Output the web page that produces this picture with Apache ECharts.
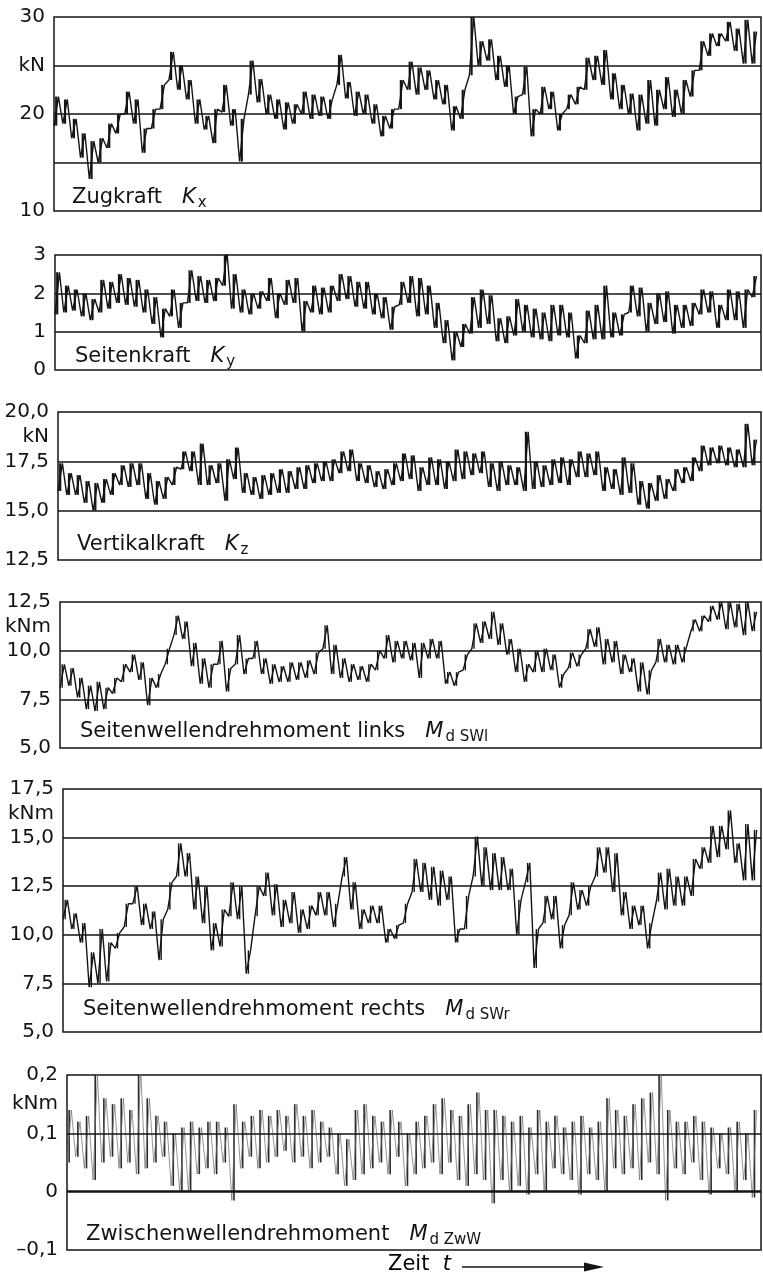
<!DOCTYPE html>
<html><head><meta charset="utf-8">
<script src="https://cdn.jsdelivr.net/npm/echarts/dist/echarts.min.js"></script>
<style>html,body{margin:0;padding:0;background:#fff}#c{width:763px;height:1279px}</style>
</head><body><div id="c"></div>
<script>
// ---- data: per time bin, lower and upper excursion of the recorded trace ----
const kxLo=[18.8,19.0,17.5,15.5,13.3,15.0,16.5,18.0,20.0,19.0, 16.0,18.5,20.5,23.5,22.5,21.5,19.0,18.4,17.0,20.2, 18.8,15.1,22.0,21.2,20.0,19.5,18.4,19.0,20.0,19.5, 19.8,19.5,23.0,21.6,19.8,20.0,19.0,17.7,18.5,20.5, 22.5,22.0,22.5,21.5,21.0,18.3,19.5,24.0,25.0,25.5, 23.5,22.8,20.0,22.0,17.7,20.0,20.5,18.3,20.5,21.0, 22.5,23.5,23.0,21.5,20.5,20.0,18.3,19.0,18.8,20.5, 19.7,20.0,21.8,24.5,26.0,27.0,27.5,26.5,25.2,25.2];
const kxHi=[21.8,21.5,19.5,18.0,17.2,17.5,19.0,20.0,22.3,21.5, 18.5,20.5,23.0,26.4,25.0,23.5,21.5,19.8,20.5,23.0, 20.5,19.5,25.5,23.6,22.0,21.5,21.2,21.0,22.3,22.0, 21.8,21.5,26.1,23.3,22.3,22.0,21.0,19.8,20.5,23.5, 25.4,24.8,24.5,23.5,23.0,20.8,22.5,30.0,27.5,27.7, 26.0,25.0,21.8,24.9,20.5,22.8,22.3,20.0,22.0,22.8, 25.8,26.0,26.6,24.2,23.0,22.1,22.0,23.5,22.5,23.8, 22.5,23.5,24.5,27.5,28.3,28.3,29.5,28.8,29.7,28.5];

const kyLo=[1.45,1.5,1.55,1.4,1.3,1.5,1.6,1.75,1.7,1.65, 1.5,1.2,0.85,1.4,1.1,1.75,1.8,1.75,1.8,2.2, 1.6,1.5,1.45,1.6,1.8,1.35,1.7,1.75,1.0,1.5, 1.45,1.5,1.8,1.85,1.65,1.6,1.45,1.35,1.05,1.7, 1.75,1.4,1.45,1.1,0.7,0.25,0.6,0.95,1.1,1.2, 0.75,0.7,0.9,1.0,0.85,0.8,0.75,0.9,0.85,0.3, 0.7,0.8,0.8,0.85,0.9,1.5,1.4,1.0,1.2,1.25, 0.95,1.1,1.15,1.45,1.5,1.1,1.3,1.3,1.1,1.9];
const kyHi=[2.55,2.2,2.1,2.0,1.85,2.35,2.3,2.5,2.4,2.35, 2.1,1.9,1.6,2.1,1.75,2.6,2.45,2.35,2.4,3.05, 2.5,2.1,2.0,2.05,2.4,2.0,2.35,2.4,1.8,2.2, 2.15,2.2,2.5,2.45,2.3,2.3,2.0,1.9,1.65,2.3, 2.45,2.4,2.2,1.75,1.3,1.0,1.2,1.9,2.1,1.95, 1.35,1.4,1.85,1.7,1.6,1.5,1.7,1.7,1.5,0.9, 1.55,1.7,2.2,1.5,1.45,2.2,2.15,1.75,2.0,2.05, 1.7,1.7,1.75,2.1,2.05,1.7,2.1,2.05,2.1,2.45];

const kzLo=[16.0,15.8,15.8,15.4,15.0,15.4,15.8,16.3,16.2,16.3, 15.6,15.3,15.6,16.3,17.1,17.0,16.3,16.3,16.4,15.5, 16.6,15.9,15.8,15.6,15.8,15.9,15.9,16.1,16.1,16.4, 16.5,16.5,16.9,17.0,16.5,16.4,16.2,16.1,16.3,16.5, 16.6,16.0,16.3,16.3,16.1,16.5,16.6,16.8,16.9,16.2, 16.0,16.3,16.3,16.0,16.1,16.2,16.3,16.4,16.3,16.7, 16.7,16.8,16.0,16.1,15.8,15.9,15.3,15.1,15.5,15.6, 16.0,16.4,16.5,17.0,17.3,17.4,17.3,17.2,17.2,17.3];
const kzHi=[17.4,16.9,16.8,16.5,16.4,16.6,16.9,17.3,17.4,17.4, 16.9,16.5,16.7,17.2,18.0,18.0,18.4,17.3,17.4,17.6, 18.2,16.9,16.7,16.8,16.9,17.1,17.0,17.2,17.3,17.4, 17.5,17.6,18.0,18.1,17.4,17.3,17.0,17.1,17.4,17.9, 17.8,17.2,17.7,17.6,17.5,18.1,18.0,17.9,18.0,17.4, 17.5,17.3,17.2,19.0,17.5,17.3,17.6,17.7,17.6,18.0, 17.9,18.0,17.2,17.1,17.7,17.4,16.5,16.4,16.8,16.6, 17.1,17.2,17.7,18.3,18.2,18.3,18.2,18.1,19.4,18.6];

const swlLo=[8.1,8.2,7.6,7.0,6.9,7.0,7.8,8.4,8.9,8.5, 7.2,8.1,9.3,10.8,10.6,9.2,8.3,8.1,9.3,7.9, 9.3,8.8,9.6,8.8,8.3,8.4,8.4,8.5,8.6,8.8, 10.1,8.8,8.6,8.4,8.5,8.4,9.0,9.6,9.4,9.6, 9.5,8.6,9.6,9.6,8.3,8.2,9.0,10.1,10.4,10.6, 10.3,9.8,8.9,8.4,8.9,8.9,9.0,8.1,9.1,9.2, 10.1,10.2,9.3,9.4,8.8,8.9,7.9,7.75,9.4,9.4, 9.3,9.4,11.0,11.0,11.5,11.6,11.1,11.2,10.8,11.0];
const swlHi=[9.3,9.1,8.6,8.2,8.4,8.1,8.6,9.3,9.8,9.4, 8.6,8.8,10.1,11.8,11.5,10.4,9.6,9.3,10.5,9.1, 10.8,9.6,10.5,9.6,9.3,9.2,9.4,9.4,9.5,9.9, 11.3,10.3,9.6,9.3,9.2,9.3,10.0,10.8,10.5,10.5, 10.4,10.4,10.6,10.5,8.9,8.9,9.8,11.4,11.5,12.0, 11.4,10.6,10.1,9.3,10.0,10.1,9.8,8.8,9.9,9.8, 11.1,11.2,10.6,10.5,9.8,9.6,9.4,9.0,10.6,10.3, 10.3,10.2,11.6,11.8,12.3,12.5,12.5,12.4,12.5,12.0];

const swrLo=[10.8,10.3,9.6,7.3,7.5,7.6,9.3,10.4,11.6,10.5, 10.3,8.7,11.3,13.0,13.0,11.3,10.6,9.2,9.4,10.95, 10.8,8.0,10.95,12.0,11.0,10.4,10.6,10.1,10.3,11.0, 11.0,10.4,13.0,11.3,10.3,10.6,10.6,9.6,9.8,10.6, 12.2,12.2,11.8,11.5,11.8,9.6,10.3,13.0,12.5,12.3, 12.3,12.3,10.0,12.7,8.3,10.6,10.8,9.3,11.0,11.3, 11.5,13.0,13.2,12.2,11.0,10.3,10.5,9.3,11.7,11.3, 11.5,11.5,12.0,13.4,13.7,14.0,14.4,13.7,12.8,12.8];
const swrHi=[11.8,11.1,10.6,9.1,10.3,9.6,10.1,11.6,12.5,11.6, 11.2,10.8,12.7,14.7,14.2,13.0,12.5,10.6,11.3,12.7, 12.5,9.2,12.5,13.2,12.6,11.8,12.2,11.3,11.5,12.2, 12.2,11.6,14.0,12.7,11.3,11.5,11.5,10.3,10.5,11.6, 13.9,13.7,13.5,13.3,13.0,10.3,12.0,15.05,14.5,14.2, 14.0,13.4,11.8,13.7,10.3,12.0,12.0,10.5,12.7,12.3, 12.5,14.5,14.5,14.2,12.2,11.5,11.5,10.6,13.2,13.4, 13.0,13.0,13.9,14.5,15.6,15.6,16.4,14.7,15.7,15.4];

const zwwLo=[0.05,0.06,0.04,0.02,0.05,0.06,0.04,0.05,0.03,0.04, 0.05,0.06,0.01,0.0,0.0,0.03,0.04,0.03,0.05,-0.015, 0.04,0.06,0.04,0.05,0.06,0.07,0.05,0.06,0.04,0.05, 0.06,0.03,0.01,0.02,0.03,0.04,0.05,0.03,0.06,0.01, 0.03,0.04,0.05,0.03,0.05,0.02,0.01,0.03,0.02,-0.02, 0.02,0.0,0.01,-0.005,0.03,0.0,0.04,0.03,0.02,-0.005, 0.03,0.02,0.0,0.04,0.03,0.04,0.02,0.05,0.03,-0.015, 0.04,0.03,0.05,0.02,-0.005,0.04,0.03,0.0,0.02,-0.01];
const zwwHi=[0.14,0.12,0.13,0.20,0.16,0.15,0.16,0.14,0.21,0.16, 0.13,0.12,0.10,0.11,0.12,0.11,0.12,0.12,0.11,0.15, 0.12,0.13,0.14,0.13,0.14,0.13,0.15,0.13,0.14,0.12, 0.11,0.10,0.09,0.14,0.15,0.13,0.12,0.14,0.12,0.10, 0.12,0.13,0.15,0.16,0.14,0.13,0.15,0.17,0.14,0.14, 0.13,0.12,0.13,0.11,0.14,0.12,0.13,0.11,0.12,0.13, 0.11,0.12,0.16,0.14,0.13,0.15,0.16,0.17,0.20,0.14, 0.12,0.12,0.13,0.12,0.11,0.10,0.11,0.12,0.10,0.14];

// ---- axis tick labels and reference lines ----
const ticksKx=[[30,'30'],[25,'kN'],[20,'20'],[10,'10']];
const linesKx=[15,20,25];
const ticksKy=[[3,'3'],[2.5,'kN'],[2,'2'],[1,'1'],[0,'0']];
const linesKy=[1,2];
const ticksKz=[[20,'20,0'],[18.75,'kN'],[17.5,'17,5'],[15,'15,0'],[12.5,'12,5']];
const linesKz=[15,17.5];
const ticksSwl=[[12.5,'12,5'],[11.25,'kNm'],[10,'10,0'],[7.5,'7,5'],[5,'5,0']];
const linesSwl=[7.5,10];
const ticksSwr=[[17.5,'17,5'],[16.25,'kNm'],[15,'15,0'],[12.5,'12,5'],[10,'10,0'],[7.5,'7,5'],[5,'5,0']];
const linesSwr=[7.5,10,12.5,15];
const ticksZww=[[0.2,'0,2'],[0.15,'kNm'],[0.1,'0,1'],[0,'0'],[-0.1,'\u20130,1']];
const linesZww=[0,0.1];

const FONT='"DejaVu Sans", sans-serif';
const INK='#141414';

const panels=[
 {name:'Zugkraft',sym:'K',sub:'x',lo:kxLo,hi:kxHi,min:10,max:30,step:5,ticks:ticksKx,lines:linesKx,left:54,top:17,height:194,tx:72,ty:198,lw:1.4,bw:2.2,col:INK,bcol:INK},
 {name:'Seitenkraft',sym:'K',sub:'y',lo:kyLo,hi:kyHi,min:0,max:3,step:0.5,ticks:ticksKy,lines:linesKy,left:55,top:255,height:115,tx:75,ty:357,lw:1.4,bw:2.2,col:INK,bcol:INK},
 {name:'Vertikalkraft',sym:'K',sub:'z',lo:kzLo,hi:kzHi,min:12.5,max:20,step:1.25,ticks:ticksKz,lines:linesKz,left:58,top:412,height:148,tx:77,ty:545,lw:1.4,bw:2.2,col:INK,bcol:INK},
 {name:'Seitenwellendrehmoment links',sym:'M',sub:'d SWl',lo:swlLo,hi:swlHi,min:5,max:12.5,step:1.25,ticks:ticksSwl,lines:linesSwl,left:60,top:602,height:146,tx:80,ty:732,lw:1.4,bw:1.4,col:INK,bcol:INK},
 {name:'Seitenwellendrehmoment rechts',sym:'M',sub:'d SWr',lo:swrLo,hi:swrHi,min:5,max:17.5,step:1.25,ticks:ticksSwr,lines:linesSwr,left:63,top:789,height:243,tx:83,ty:1010,lw:1.4,bw:1.4,col:INK,bcol:INK},
 {name:'Zwischenwellendrehmoment',sym:'M',sub:'d ZwW',lo:zwwLo,hi:zwwHi,min:-0.1,max:0.2,step:0.05,ticks:ticksZww,lines:linesZww,left:67,top:1075,height:175,tx:86,ty:1235,lw:0.7,bw:1.6,col:'#6a6a6a',bcol:'#2a2a2a'}
];

function zig(lo,hi){const d=[];for(let i=0;i<lo.length;i++){d.push([i,lo[i]]);d.push([i+0.5,hi[i]]);}return d;}

const rich={
 a:{fontSize:21,fontFamily:FONT,fontWeight:'normal',color:INK},
 i:{fontSize:21,fontFamily:FONT,fontWeight:'normal',fontStyle:'italic',color:INK},
 s:{fontSize:15,fontFamily:FONT,fontWeight:'normal',color:INK,padding:[11,0,0,2]}
};

const option={animation:false,backgroundColor:'#fff',grid:[],xAxis:[],yAxis:[],series:[],title:[],
 graphic:[
  {type:'text',left:388,top:1254,style:{text:'{a|Zeit  }{i|t}',rich:{a:{fontSize:21,fontFamily:FONT,color:INK},i:{fontSize:21,fontFamily:FONT,fontStyle:'italic',color:INK}}}},
  {type:'line',shape:{x1:462,y1:1267,x2:592,y2:1267},style:{stroke:INK,lineWidth:1.5}},
  {type:'polygon',shape:{points:[[584,1262.5],[604,1267],[584,1271.5]]},style:{fill:INK}}
 ]};

panels.forEach((p,k)=>{
 option.grid.push({left:p.left,right:2,top:p.top,height:p.height,show:true,borderColor:INK,borderWidth:1.5,backgroundColor:'transparent'});
 option.xAxis.push({type:'value',gridIndex:k,min:0,max:p.lo.length,show:false});
 option.yAxis.push({type:'value',gridIndex:k,min:p.min,max:p.max,interval:p.step,
  axisLine:{show:false},axisTick:{show:false},splitLine:{show:false},
  axisLabel:{margin:9,fontSize:20,fontFamily:FONT,color:INK,showMaxLabel:true,showMinLabel:true,hideOverlap:false,
   formatter:v=>{for(const [t,l] of p.ticks){if(Math.abs(v-t)<1e-6)return l;}return '';}}});
 // trace: zig-zag through the lower / upper excursions of each time bin
 option.series.push({type:'line',xAxisIndex:k,yAxisIndex:k,data:zig(p.lo,p.hi),showSymbol:false,symbol:'none',
  lineStyle:{color:p.col,width:p.lw},
  markLine:{silent:true,symbol:['none','none'],label:{show:false},animation:false,
   lineStyle:{color:INK,width:1.5,type:'solid'},
   data:p.lines.map(v=>({yAxis:v,lineStyle:{color:INK,width:(v===0?2.5:1.5),type:'solid'}}))}});
 // vertical noise strokes: the excursion range of each bin
 option.series.push({type:'custom',xAxisIndex:k,yAxisIndex:k,silent:true,clip:true,
  data:p.lo.map((v,i)=>[i,v,p.hi[i]]),
  encode:{x:0,y:[1,2]},
  renderItem:(params,api)=>{
   const a=api.coord([api.value(0)+0.25,api.value(1)]);
   const b=api.coord([api.value(0)+0.25,api.value(2)]);
   return {type:'line',shape:{x1:a[0],y1:a[1],x2:b[0],y2:b[1]},style:{stroke:p.bcol,lineWidth:p.bw}};
  }});
 option.title.push({left:p.tx,top:p.ty-13,padding:0,
  text:'{a|'+p.name+'   }{i|'+p.sym+'}{s|'+p.sub+'}',
  textStyle:{fontWeight:'normal',rich:rich}});
});

const chart=echarts.init(document.getElementById('c'),null,{renderer:'canvas'});
chart.setOption(option);
</script></body></html>
